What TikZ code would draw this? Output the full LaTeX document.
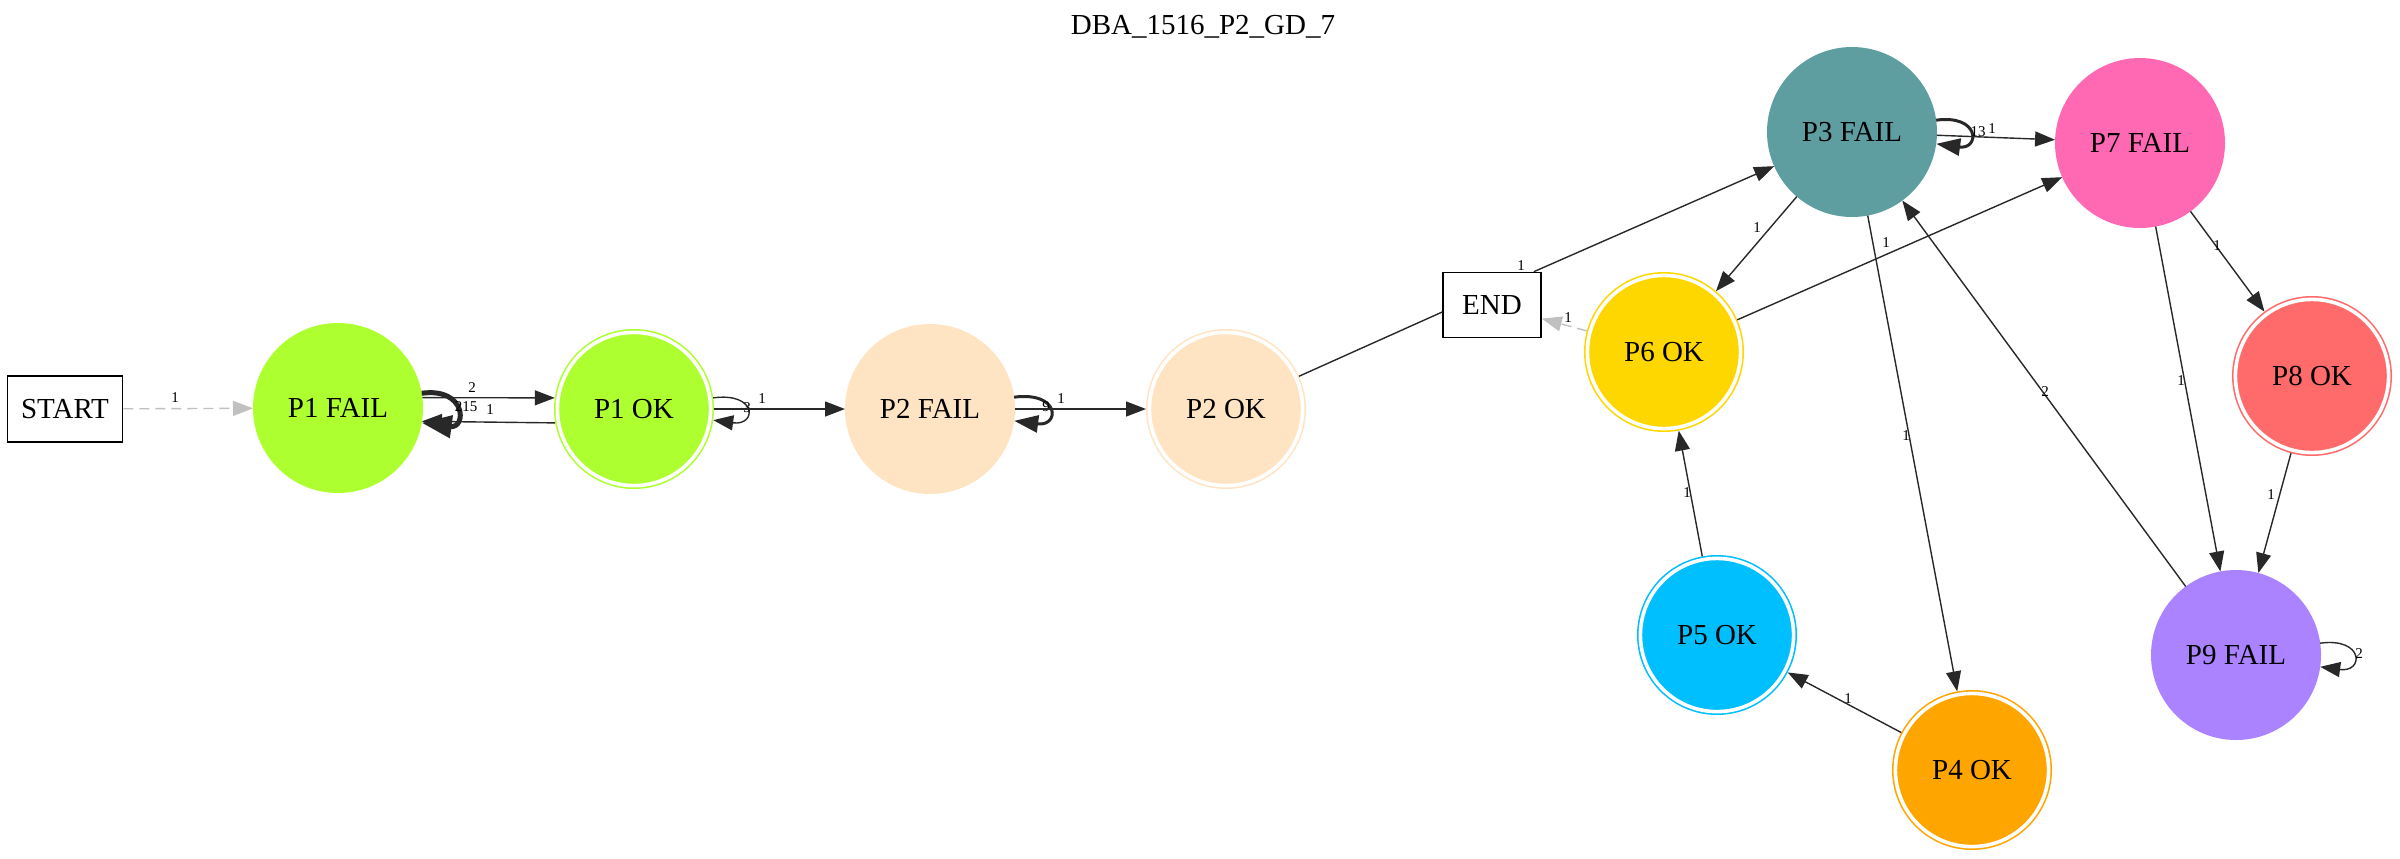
\documentclass[tikz,border=0pt]{standalone}
\usepackage{fontspec}
\setmainfont{Liberation Serif}
\usetikzlibrary{arrows.meta}
\definecolor{edgec}{RGB}{40,40,40}
\definecolor{grayc}{RGB}{192,192,192}
\definecolor{cpa}{HTML}{ADFF2F}
\definecolor{cpb}{HTML}{FFE4C4}
\definecolor{cpc}{HTML}{5F9EA0}
\definecolor{cpd}{HTML}{FFA500}
\definecolor{cpe}{HTML}{00BFFF}
\definecolor{cpf}{HTML}{FFD700}
\definecolor{cpg}{HTML}{FF69B4}
\definecolor{cph}{HTML}{FF6A6A}
\definecolor{cpi}{HTML}{AB82FF}
\newcommand\myNodeFont{\fontsize{14.5}{17}\selectfont}
\newcommand\myLblFont{\fontsize{7.5}{9}\selectfont}
\begin{document}
\begin{tikzpicture}[x=0.5pt,y=-0.5pt,
  failn/.style={circle, fill=#1, draw=none, minimum size=85pt, inner sep=0pt, outer sep=0pt, font=\myNodeFont},
  okn/.style={circle, fill=#1, draw=#1, double=white, double distance=1.8pt, line width=0.8pt, minimum size=76.6pt, inner sep=0pt, outer sep=1.7pt, font=\myNodeFont},
  boxn/.style={draw=black, line width=0.8pt, rectangle, inner sep=0pt, font=\myNodeFont},
  edge/.style={draw=edgec, line width=0.7pt, -{Triangle[length=10pt,width=7.5pt]}},
  gedge/.style={draw=grayc, line width=0.7pt, dash pattern=on 5pt off 3pt, -{Triangle[length=10pt,width=7.5pt]}},
  thickloop/.style={draw=edgec, line width=1.5pt, -{Triangle[length=12pt,width=8.5pt]}},
  lbl/.style={font=\myLblFont, inner sep=0pt},
]
\useasboundingbox (0,0) rectangle (2400,858);
\node[font=\myNodeFont, inner sep=0pt] (title) at (1203,27) {DBA\_1516\_P2\_GD\_7};

\node[boxn, minimum width=57.5pt, minimum height=33pt] (start) at (65,409) {START};
\node[boxn, minimum width=49pt, minimum height=32.5pt] (end) at (1492,305) {END};

\node[failn=cpa] (p1f) at (338,408) {P1 FAIL};
\node[okn=cpa] (p1ok) at (634,409) {P1 OK};
\node[failn=cpb] (p2f) at (930,409) {P2 FAIL};
\node[okn=cpb] (p2ok) at (1226,409) {P2 OK};
\node[failn=cpc] (p3f) at (1852,132) {P3 FAIL};
\node[failn=cpg] (p7f) at (2140,143) {P7 FAIL};
\node[okn=cpf] (p6ok) at (1664,352) {P6 OK};
\node[okn=cph] (p8ok) at (2312,376) {P8 OK};
\node[okn=cpe] (p5ok) at (1717,635) {P5 OK};
\node[failn=cpi] (p9f) at (2236,655) {P9 FAIL};
\node[okn=cpd] (p4ok) at (1972,770) {P4 OK};

% START -> P1 FAIL
\draw[gedge] (start) -- (p1f);
\node[lbl] (l01) at (175,398) {1};

% P1 FAIL loop
\draw[draw=edgec, line width=2.5pt, -{Triangle[length=15pt,width=11pt]}] (p1f.10) .. controls +(45,-6) and +(45,6) .. (p1f.-10);
\node[lbl] (l02) at (466,407) {215};
% P1 FAIL <-> P1 OK
\draw[edge] (p1f.7.5) -- (p1ok.172);
\node[lbl] (l03) at (472,388) {2};
\draw[edge] (p1ok.-170.5) -- (p1f.-9);
\node[lbl] (l04) at (490,410) {1};

% P1 OK loop and edge
\draw[edge] (p1ok.8) .. controls +(44,-6) and +(44,6) .. (p1ok.-8);
\node[lbl] (l05) at (747,408) {3};
\draw[edge] (p1ok) -- (p2f);
\node[lbl] (l06) at (762,399) {1};

% P2 FAIL loop and edge
\draw[thickloop] (p2f.8) .. controls +(46,-6) and +(46,6) .. (p2f.-8);
\node[lbl] (l07) at (1046,407) {9};
\draw[edge] (p2f) -- (p2ok);
\node[lbl] (l08) at (1061,399) {1};

% P2 OK -- END
\coordinate (endin) at ([yshift=-3.5pt]end.west);
\draw[draw=edgec, line width=0.7pt] (p2ok) -- (endin);

% END -> P3
\draw[edge] ([xshift=-4pt]end.north east) -- (p3f);
\node[lbl] (l09) at (1521,266) {1};

% P6 -> END
\draw[gedge] (p6ok) -- (end);
\node[lbl] (l10) at (1568,318) {1};

% P3 loop and edges
\draw[thickloop] (p3f.8) .. controls +(44,-6) and +(44,6) .. (p3f.-8);
\node[lbl] (l11) at (1978,132) {13};
\draw[edge] (p3f) -- (p7f);
\node[lbl] (l12) at (1992,129) {1};
\draw[edge] (p3f) -- (p6ok);
\node[lbl] (l13) at (1757,228) {1};
\draw[edge] (p3f) -- (p4ok);
\node[lbl] (l14) at (1906,436) {1};

% P6 -> P7
\draw[edge] (p6ok) -- (p7f);
\node[lbl] (l15) at (1886,243) {1};

% P7 -> P8, P7 -> P9
\draw[edge] (p7f) -- (p8ok);
\node[lbl] (l16) at (2217,246) {1};
\draw[edge] (p7f) -- (p9f);
\node[lbl] (l17) at (2181,381) {1};

% P8 -> P9
\draw[edge] (p8ok) -- (p9f);
\node[lbl] (l18) at (2271,495) {1};

% P9 -> P3
\draw[edge] (p9f) -- (p3f);
\node[lbl] (l19) at (2045,392) {2};

% P9 loop
\draw[edge] (p9f.8) .. controls +(44,-6) and +(44,6) .. (p9f.-8);
\node[lbl] (l20) at (2359,654) {2};

% P5 -> P6
\draw[edge] (p5ok) -- (p6ok);
\node[lbl] (l21) at (1687,493) {1};

% P4 -> P5
\draw[edge] (p4ok) -- (p5ok);
\node[lbl] (l22) at (1848,699) {1};
\end{tikzpicture}
\end{document}
